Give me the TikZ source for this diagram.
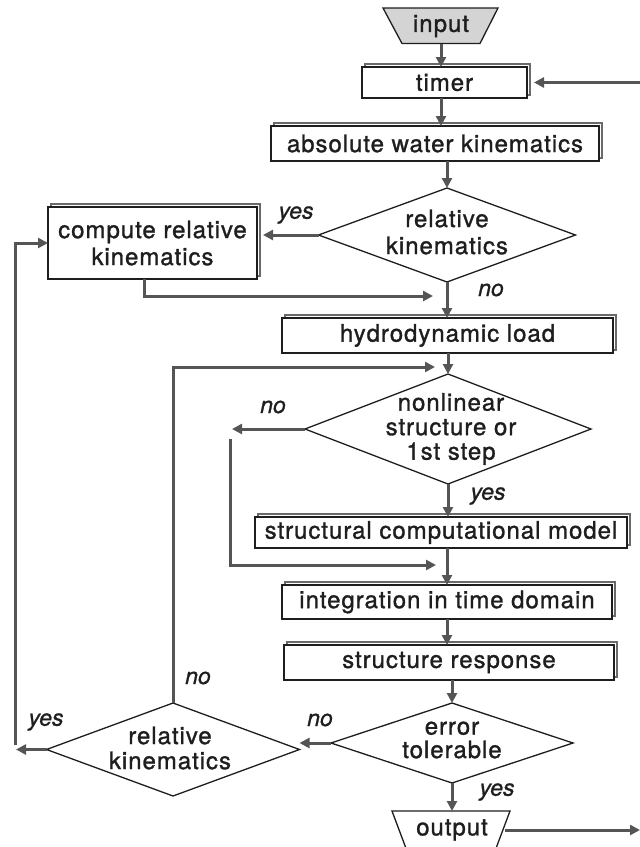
\documentclass[tikz,border=0pt]{standalone}
\usepackage{fontspec}
\setmainfont{TeX Gyre Heros}
\newfontfamily\boxfont[LetterSpace=4, FakeBold=1.2]{TeX Gyre Heros}
\newfontfamily\lblfont[FakeBold=1.0]{TeX Gyre Heros}
\usetikzlibrary{arrows.meta,shapes.geometric,shadows}
\definecolor{ink}{HTML}{1E1E1E}
\definecolor{wire}{HTML}{555555}
\definecolor{shade}{HTML}{6A6A6A}
\begin{document}
\begin{tikzpicture}[x=1pt,y=-1pt,
  txt/.style={font=\boxfont\fontsize{24}{27}\selectfont, text=ink, align=center, inner sep=0pt},
  box/.style={txt, draw=ink, line width=1.3pt, fill=white, outer sep=0pt,
    copy shadow={shadow xshift=3pt, shadow yshift=3pt, draw=shade, line width=2.8pt, fill=white}},
  dia/.style={diamond, draw=ink, line width=1.3pt, fill=white, inner sep=0pt, outer sep=0pt},
  conn/.style={draw=wire, line width=3pt, -{Triangle[length=10pt,width=10pt]}},
  lbl/.style={font=\lblfont\fontsize{23}{25}\selectfont\itshape, text=ink, inner sep=0pt}
]
\useasboundingbox (0,0) rectangle (640,847);
\clip (0,0) rectangle (640,847);

% input trapezoid
\coordinate (inTL) at (383,8);
\coordinate (inTR) at (498,8);
\coordinate (inBR) at (480,43.5);
\coordinate (inBL) at (402,43.5);
\coordinate (inB) at (441,43.5);
\draw[ink, line width=1.3pt, fill=black!17] (inTL) -- (inTR) -- (inBR) -- (inBL) -- cycle;
\node[txt] (in) at (441,26) {input};

% boxes
\node[box, minimum width=165pt, minimum height=31pt] (timer) at (444.5,82.5) {timer};
\node[box, minimum width=328pt, minimum height=35pt] (abs) at (435,143.5) {absolute water kinematics};
\node[box, minimum width=209pt, minimum height=72pt] (comp) at (152.5,243) {compute relative\\kinematics};
\node[box, minimum width=331pt, minimum height=35pt] (hydro) at (447.5,335.5) {hydrodynamic load};
\node[box, minimum width=372pt, minimum height=31pt] (struct) at (441,532.5) {structural computational model};
\node[box, minimum width=330pt, minimum height=34pt] (integ) at (447,602) {integration in time domain};
\node[box, minimum width=330pt, minimum height=35pt] (resp) at (449,662.5) {structure response};

% diamonds
\node[dia, minimum width=257pt, minimum height=94pt] (d1) at (447,235) {};
\node[txt, font=\boxfont\fontsize{24}{27}\selectfont] (d1t) at (447,232) {relative\\kinematics};
\node[dia, minimum width=286pt, minimum height=110pt] (d2) at (448,429) {};
\node[txt, font=\boxfont\fontsize{24}{24.5}\selectfont] (d2t) at (451,429) {nonlinear\\structure or\\1st step};
\node[dia, minimum width=242pt, minimum height=80pt] (d3) at (452,743) {};
\node[txt, font=\boxfont\fontsize{24}{23.5}\selectfont] (d3t) at (452,740) {error\\tolerable};
\node[dia, minimum width=253pt, minimum height=93pt] (d4) at (173,749.5) {};
\node[txt, font=\boxfont\fontsize{24}{25}\selectfont] (d4t) at (170,748) {relative\\kinematics};

% output trapezoid
\coordinate (oTL) at (392,811);
\coordinate (oTR) at (510,811);
\coordinate (oBR) at (495,851);
\coordinate (oBL) at (407,851);
\coordinate (oT) at (450,811);
\draw[ink, line width=1.3pt, fill=white] (oTL) -- (oTR) -- (oBR) -- (oBL) -- cycle;
\node[txt] (out) at (452,830) {output};

% main flow
\draw[conn] (inB) -- (inB |- timer.north);
\draw[conn] (inB |- timer.south) -- (inB |- abs.north);
\draw[conn] (d1.north |- abs.south) -- (d1.north);
\draw[conn] (d1.south) -- (d1.south |- hydro.north);
\draw[conn] (d2.north |- hydro.south) -- (d2.north);
\draw[conn] (d2.south) -- (d2.south |- struct.north);
\draw[conn] (integ.north |- struct.south) -- (integ.north);
\draw[conn] (integ.south) -- (integ.south |- resp.north);
\draw[conn] (d3.north |- resp.south) -- (d3.north);
\draw[conn] (d3.south) -- (d3.south |- oT);

% timer re-entry and output exit
\coordinate (tR) at (640,82.5);
\draw[conn] (tR) -- ([xshift=7pt]timer.east);
\coordinate (oE) at (505,830);
\coordinate (oR) at (640,830);
\draw[conn] (oE) -- (oR);

% relative kinematics branch (top)
\draw[conn] (d1.west) -- ([xshift=6pt]comp.east |- d1.west);
\coordinate (j1) at (433,296);
\draw[conn] ([xshift=-8.5pt]comp.south) |- (j1);

% nonlinear branch
\coordinate (j3) at (232,429);
\draw[conn] (d2.west) -- (j3);
\coordinate (j4) at (230,439);
\coordinate (j5) at (436,565);
\draw[conn] (j4) |- (j5);

% error tolerable no branch
\draw[conn] (d3.west) -- (d3.west -| d4.east);

% lower relative kinematics branches
\coordinate (j2) at (435,367);
\draw[conn] (d4.north) |- (j2);
\coordinate (j6) at (16,749.5);
\draw[conn] (d4.west) -- (j6);
\coordinate (j7) at (15,745);
\draw[conn] (j7) |- (comp.west);

% labels
\node[lbl] (l1) at (296,215) {yes};
\node[lbl] (l2) at (491,290) {no};
\node[lbl] (l3) at (273,407) {no};
\node[lbl] (l4) at (488,496) {yes};
\node[lbl] (l5) at (198,678) {no};
\node[lbl] (l6) at (46,722) {yes};
\node[lbl] (l7) at (320,720) {no};
\node[lbl] (l8) at (497,792) {yes};
\end{tikzpicture}
\end{document}
